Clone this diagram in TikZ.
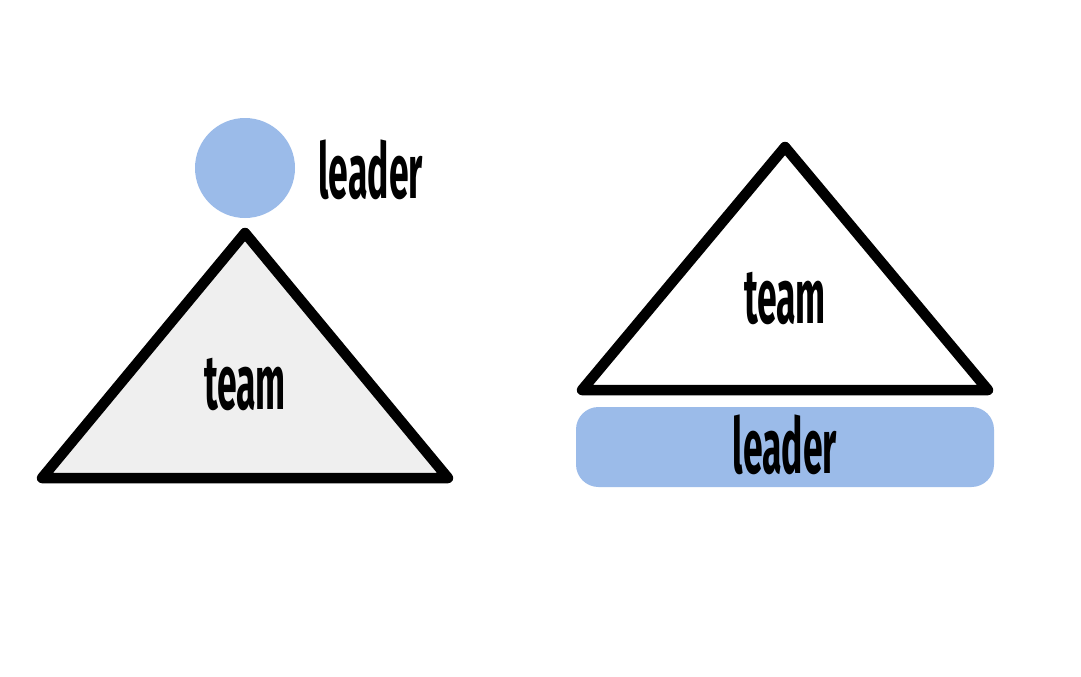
\documentclass[tikz,border=0pt]{standalone}
\usepackage{fontspec}
\setmainfont{Fira Sans}
\definecolor{leaderblue}{HTML}{9BBBE9}
\definecolor{teamgrey}{HTML}{EFEFEF}
\begin{document}
\begin{tikzpicture}[
            x = 0.02cm, y = -0.02cm, % pixel grid
            semithick % line style
        ]

        \tikzstyle{team}=[
            draw = black,
            line width = 0.21cm,
            line join = round,
            line cap = round
        ]
        \tikzstyle{label}=[
            font = \fontsize{44}{44}\selectfont\bfseries,
            inner sep = 0pt
        ]
        \newcommand{\hand}[1]{\scalebox{0.46}[1]{#1}}

        \useasboundingbox (0,0) rectangle (1081,676);

        % left: leader on top
        \fill[leaderblue] (245,168) circle (50);
        \node[label, anchor=west] (lead1) at (318,170) {\hand{leader}};
        \draw[team, fill=teamgrey] (245,233) -- (448,478) -- (42,478) -- cycle;
        \node[label] (team1) at (245,384) {\hand{team}};

        % right: leader underneath
        \draw[team, fill=white] (785,147) -- (988,390) -- (582,390) -- cycle;
        \node[label] (team2) at (785,298) {\hand{team}};
        \fill[leaderblue, rounded corners=0.45cm] (576,407) rectangle (994,487);
        \node[label] (lead2) at (785,445) {\hand{leader}};

  \end{tikzpicture}
\end{document}
